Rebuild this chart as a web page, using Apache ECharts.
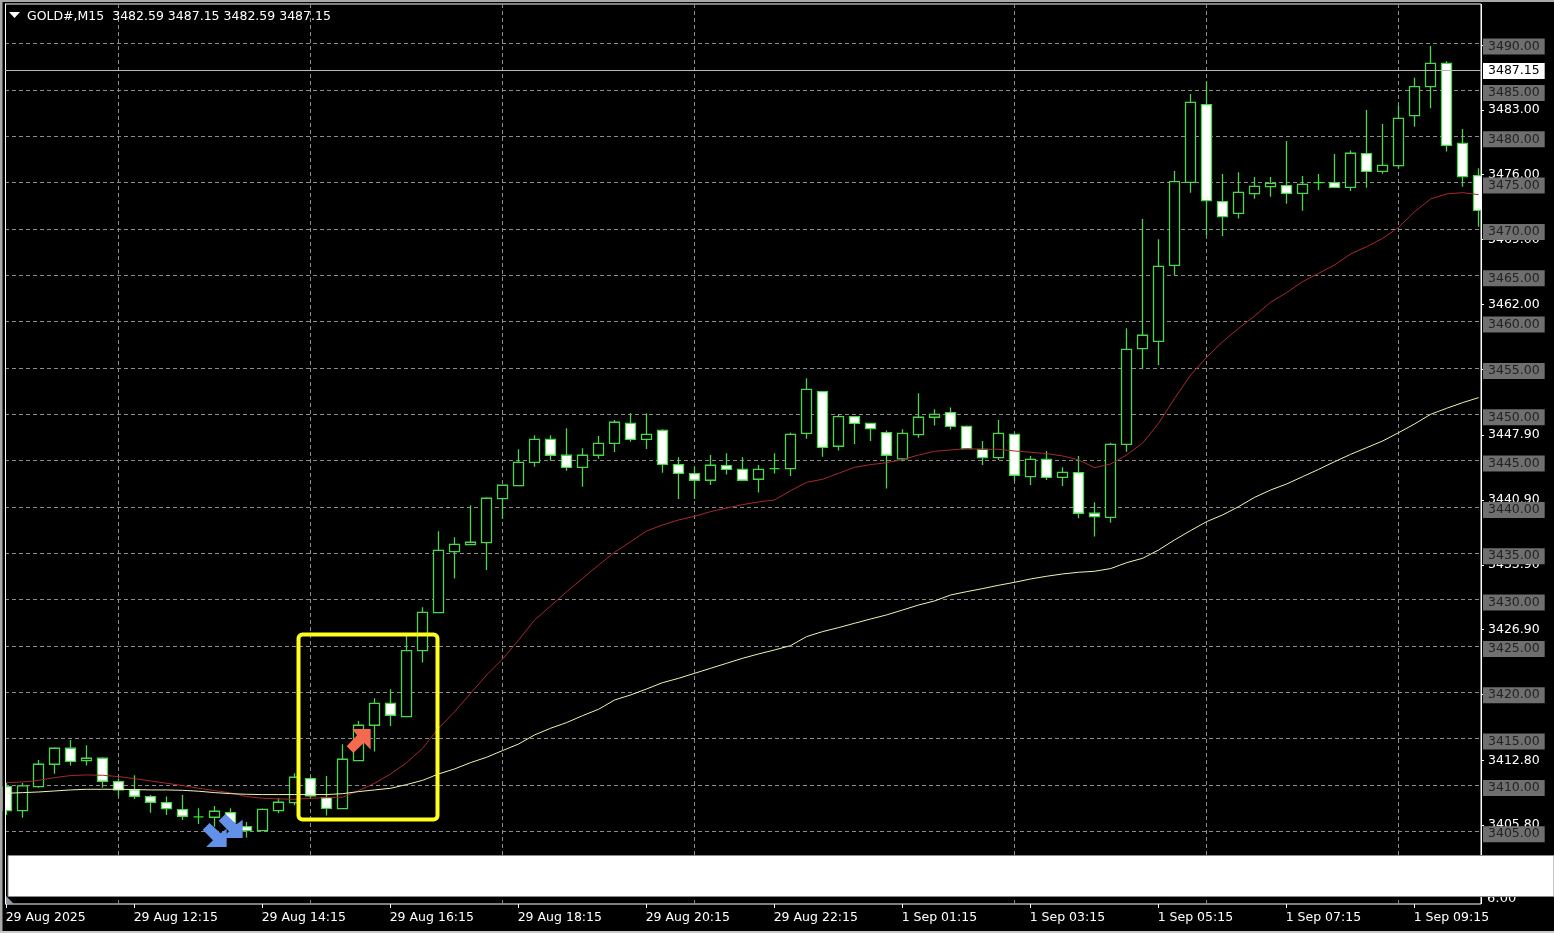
<!DOCTYPE html>
<html>
<head>
<meta charset="utf-8">
<style>html,body{margin:0;padding:0;background:#000}#c{width:1554px;height:933px}</style>
<script src="https://cdn.jsdelivr.net/npm/echarts@6/dist/echarts.min.js"></script>
</head>
<body>
<div id="c"></div>
<script>
const opens=[3409.82,3407.23,3409.82,3412.23,3413.96,3412.63,3412.88,3410.36,3409.46,3408.74,3408.09,3407.34,3406.55,3406.51,3407.01,3405.50,3405.07,3407.23,3408.09,3410.68,3408.63,3407.45,3412.63,3416.44,3418.81,3417.37,3424.50,3428.60,3435.18,3435.94,3436.15,3440.90,3442.30,3444.82,3447.30,3445.58,3444.28,3445.58,3446.87,3449.03,3447.30,3448.27,3444.57,3443.60,3442.88,3444.46,3444.06,3442.99,3444.14,3444.14,3447.95,3452.45,3446.55,3449.75,3449.03,3448.02,3445.18,3447.80,3449.68,3450.18,3448.70,3446.22,3445.32,3447.84,3443.27,3445.14,3443.20,3443.70,3439.32,3438.88,3446.76,3457.09,3457.88,3466.08,3475.04,3483.42,3472.95,3471.69,3473.81,3474.57,3474.68,3473.85,3475.00,3475.00,3474.50,3478.14,3476.22,3476.83,3482.23,3485.36,3487.88,3479.24,3475.76];
const closes=[3407.23,3409.90,3412.23,3413.96,3412.55,3412.88,3410.40,3409.46,3408.78,3408.13,3407.45,3406.62,3406.55,3407.16,3405.90,3405.07,3407.37,3408.13,3410.83,3408.81,3407.48,3412.77,3416.44,3418.81,3417.52,3424.50,3428.63,3435.32,3435.97,3436.19,3440.94,3442.34,3444.82,3447.30,3445.58,3444.28,3445.58,3446.87,3449.14,3447.30,3447.84,3444.60,3443.63,3442.88,3444.50,3444.06,3442.88,3444.06,3444.14,3447.84,3452.70,3446.44,3449.75,3449.03,3448.45,3445.58,3447.95,3449.68,3450.00,3448.70,3446.29,3445.32,3447.95,3443.42,3445.14,3443.20,3443.74,3439.32,3438.96,3446.76,3457.01,3458.53,3465.97,3475.11,3483.67,3473.06,3471.33,3473.96,3474.60,3474.93,3473.85,3474.82,3475.00,3474.50,3478.17,3476.22,3476.87,3481.94,3485.36,3487.88,3479.03,3475.65,3472.01];
const lows=[3406.76,3406.47,3409.70,3411.20,3412.09,3412.09,3409.70,3408.74,3408.49,3407.01,3406.76,3406.22,3405.79,3405.50,3405.20,3404.32,3405.00,3406.94,3407.81,3408.56,3406.69,3407.45,3412.63,3413.60,3416.37,3417.30,3423.20,3428.60,3432.27,3435.94,3433.20,3438.74,3442.23,3444.35,3445.00,3443.92,3442.19,3445.20,3445.94,3447.05,3446.26,3443.70,3440.86,3440.86,3442.37,3443.49,3442.88,3441.55,3443.60,3443.35,3447.37,3445.43,3446.08,3446.80,3447.12,3441.98,3444.93,3447.48,3448.78,3448.35,3446.22,3444.53,3445.07,3442.84,3442.37,3442.90,3442.27,3438.78,3436.80,3438.30,3445.97,3454.86,3455.32,3465.04,3473.92,3469.35,3469.24,3471.12,3473.27,3473.49,3472.73,3471.98,3474.20,3474.50,3474.10,3474.46,3475.97,3476.55,3481.04,3483.02,3478.35,3474.57,3470.25];
const highs=[3410.20,3410.20,3412.70,3414.06,3414.86,3414.28,3413.00,3410.70,3411.04,3408.92,3408.74,3408.92,3407.48,3407.73,3407.48,3406.00,3407.45,3408.56,3411.26,3410.90,3410.97,3414.39,3416.90,3419.35,3420.32,3426.10,3429.17,3437.37,3436.73,3440.18,3441.04,3442.37,3446.22,3447.73,3447.73,3448.49,3446.33,3447.66,3449.39,3450.10,3450.10,3448.38,3445.36,3444.35,3445.60,3445.80,3445.36,3444.53,3445.80,3448.02,3453.88,3452.50,3450.00,3449.80,3449.10,3448.24,3448.38,3452.27,3450.54,3450.72,3448.80,3447.12,3449.39,3447.90,3445.50,3446.04,3444.28,3445.50,3440.50,3446.94,3459.28,3471.08,3468.88,3476.26,3484.57,3485.90,3475.94,3476.12,3475.61,3475.61,3479.50,3475.72,3475.94,3478.09,3478.46,3482.84,3481.33,3483.31,3486.33,3489.75,3488.09,3480.79,3476.55];
const redMA=[3410.25,3410.32,3410.50,3410.79,3411.01,3411.08,3411.04,3410.90,3410.68,3410.43,3410.18,3409.93,3409.64,3409.39,3409.14,3408.74,3408.56,3408.49,3408.45,3408.56,3408.63,3408.67,3409.39,3410.18,3411.19,3412.41,3413.96,3416.12,3417.91,3419.89,3421.87,3423.60,3425.65,3427.81,3429.32,3430.86,3432.30,3433.74,3435.11,3436.26,3437.41,3438.06,3438.60,3438.99,3439.50,3439.89,3440.25,3440.54,3440.76,3441.76,3442.66,3442.99,3443.63,3444.28,3444.57,3444.78,3445.11,3445.61,3446.01,3446.15,3446.29,3446.22,3446.22,3446.04,3445.90,3445.76,3445.50,3445.07,3444.24,3444.64,3445.61,3446.90,3449.03,3451.73,3454.24,3456.15,3457.84,3459.28,3460.61,3462.10,3463.13,3464.32,3465.22,3466.12,3467.30,3468.09,3468.99,3470.18,3471.87,3473.24,3473.78,3473.92,3473.70];
const yellowMA=[3409.10,3409.17,3409.24,3409.35,3409.46,3409.53,3409.53,3409.53,3409.50,3409.46,3409.46,3409.42,3409.32,3409.17,3409.06,3408.99,3408.96,3408.96,3408.96,3408.96,3408.96,3409.06,3409.28,3409.46,3409.64,3410.04,3410.50,3411.19,3411.73,3412.41,3412.99,3413.71,3414.42,3415.40,3416.12,3416.73,3417.48,3418.17,3419.17,3419.71,3420.36,3421.04,3421.51,3422.05,3422.59,3423.13,3423.67,3424.14,3424.57,3425.04,3426.01,3426.55,3426.98,3427.45,3427.91,3428.35,3428.88,3429.42,3429.86,3430.50,3430.86,3431.19,3431.55,3431.87,3432.23,3432.52,3432.77,3432.95,3433.06,3433.35,3433.99,3434.46,3435.36,3436.45,3437.45,3438.42,3439.14,3440.04,3441.04,3441.83,3442.48,3443.27,3444.06,3444.89,3445.68,3446.40,3447.12,3448.02,3448.96,3450.00,3450.65,3451.26,3451.80];
const gridPrices=[3405,3410,3415,3420,3425,3430,3435,3440,3445,3450,3455,3460,3465,3470,3475,3480,3485,3490];
const scalePrices=[3405.80,3412.80,3419.90,3426.90,3433.90,3440.90,3447.90,3455.00,3462.00,3469.00,3476.00,3483.00,3490.00];
const lastPrice=3487.15;
const timeTicks=[0,8,16,24,32,40,48,56,64,72,80,88];
const timeLabels=['29 Aug 2025','29 Aug 12:15','29 Aug 14:15','29 Aug 16:15','29 Aug 18:15','29 Aug 20:15','29 Aug 22:15','1 Sep 01:15','1 Sep 03:15','1 Sep 05:15','1 Sep 07:15','1 Sep 09:15'];
const sessionBars=[7,19,31,43,63,75,87];
const sessionHours=['18','21','0','3','9','12','15'];
const buyArrows=[[22,3414.74]];
const sellArrows=[[13,3404.6],[14,3405.57]];
const chartTitle='GOLD#,M15  3482.59 3487.15 3482.59 3487.15';

const FONT='"DejaVu Sans"';
const FS=12.5;
const arrowPath='path://M52 45L107 45L107 105L87 85L55 115L35 95L66 63Z';
const xMin=-0.104,xMax=92.146,yMin=3397.15,yMax=3494.28,labelShift=0.32,lastShift=0.1,plainShift=0.14;
const hidden={show:false};
const noLine={show:false,onZero:false};
const candles=opens.map((o,i)=>[i,o,closes[i],lows[i],highs[i]]);
const idx=v=>v.map((y,i)=>[i,y]);
const barPx=i=>6.67+16*i;

const hourTexts=sessionBars.map((b,k)=>({type:'text',z:90,silent:true,x:barPx(b),y:894,
  style:{text:sessionHours[k],fill:'#fff',font:'13px '+FONT,textAlign:'center',textVerticalAlign:'middle'}}));

const option={
  animation:false,backgroundColor:'#000',
  title:{text:chartTitle,left:27,top:10,padding:0,textStyle:{color:'#fff',fontFamily:FONT,fontSize:FS,fontWeight:'normal'}},
  grid:{left:5,top:4,width:1476,height:900,show:true,backgroundColor:'#000',borderColor:'#fff',borderWidth:1,containLabel:false,outerBoundsMode:'none'},
  xAxis:[
    {type:'value',min:xMin,max:xMax,position:'bottom',splitLine:hidden,axisLine:noLine,
     axisTick:{show:true,length:4,lineStyle:{color:'#fff'},customValues:timeTicks},
     axisLabel:{show:true,customValues:timeTicks,color:'#fff',fontFamily:FONT,fontSize:FS,align:'left',margin:7.5,
       padding:[0,0,0,-1],hideOverlap:false,formatter:v=>timeLabels[timeTicks.indexOf(v)]}},
    {type:'value',min:xMin,max:xMax,position:'bottom',axisLine:noLine,axisLabel:hidden,
     axisTick:{show:false,customValues:sessionBars},
     splitLine:{show:true,lineStyle:{color:'#8c8c8c',width:1,type:[4,3]}}}
  ],
  yAxis:[
    {type:'value',min:yMin,max:yMax,position:'right',axisLine:noLine,axisLabel:hidden,
     axisTick:{show:false,customValues:gridPrices},
     splitLine:{show:true,lineStyle:{color:'#8c8c8c',width:1,type:[4,3]}}},
    {type:'value',min:yMin+plainShift,max:yMax+plainShift,position:'right',z:10,axisLine:noLine,splitLine:hidden,
     axisTick:{show:true,length:3,lineStyle:{color:'#fff'},customValues:scalePrices},
     axisLabel:{show:true,customValues:scalePrices,margin:7,color:'#fff',fontFamily:FONT,fontSize:FS,hideOverlap:false,formatter:v=>v.toFixed(2)}},
    {type:'value',min:yMin+labelShift,max:yMax+labelShift,position:'right',z:11,axisLine:noLine,splitLine:hidden,
     axisTick:{show:false,customValues:gridPrices},
     axisLabel:{show:true,customValues:gridPrices,margin:2,color:'#222',fontFamily:FONT,fontSize:FS,hideOverlap:false,
       backgroundColor:'#6f6f6f',padding:[2,5,1,5],lineHeight:13,formatter:v=>v.toFixed(2)}},
    {type:'value',min:yMin+lastShift,max:yMax+lastShift,position:'right',z:11,axisLine:noLine,splitLine:hidden,
     axisTick:{show:false,customValues:[lastPrice]},
     axisLabel:{show:true,customValues:[lastPrice],margin:2,color:'#000',fontFamily:FONT,fontSize:FS,hideOverlap:false,
       backgroundColor:'#fff',padding:[2,5,1,5],lineHeight:13,formatter:v=>v.toFixed(2)}}
  ],
  series:[
    {type:'candlestick',name:'GOLD#',xAxisIndex:0,yAxisIndex:0,z:2,barWidth:10,clip:true,data:candles,
     itemStyle:{color:'#000',color0:'#fff',borderColor:'#4cd64c',borderColor0:'#4cd64c',borderColorDoji:'#2ee62e',borderWidth:1.3},
     markLine:{silent:true,symbol:'none',label:hidden,animation:false,lineStyle:{color:'#b8b8b8',type:'solid',width:1},data:[{yAxis:lastPrice}]}},
    {type:'line',name:'MA red',xAxisIndex:0,yAxisIndex:0,z:3,data:idx(redMA),showSymbol:false,symbol:'none',lineStyle:{color:'#a52a2e',width:1}},
    {type:'line',name:'MA yellow',xAxisIndex:0,yAxisIndex:0,z:3,data:idx(yellowMA),showSymbol:false,symbol:'none',lineStyle:{color:'#f3f3b0',width:1}},
    {type:'scatter',name:'Buy',xAxisIndex:0,yAxisIndex:0,z:6,data:buyArrows,symbol:arrowPath,symbolSize:24,itemStyle:{color:'#f5694f',opacity:1}},
    {type:'scatter',name:'Sell',xAxisIndex:0,yAxisIndex:0,z:6,data:sellArrows,symbol:arrowPath,symbolSize:24,symbolRotate:-90,itemStyle:{color:'#6491e8',opacity:1}}
  ],
  graphic:{elements:[
    {type:'rect',z:4,silent:true,shape:{x:2.5,y:4,width:2.5,height:900},style:{fill:'#000'}},
    {type:'rect',z:4,silent:true,shape:{x:1482,y:4,width:6,height:900},style:{fill:'#000'}},
    {type:'rect',z:5,silent:true,shape:{x:5,y:4,width:1,height:900},style:{fill:'#fff'}},
    {type:'rect',z:5,silent:true,shape:{x:1481,y:4,width:1,height:900},style:{fill:'#fff'}},
    {type:'rect',z:50,silent:true,shape:{x:298.5,y:634.5,width:139,height:185,r:4},style:{fill:'transparent',stroke:'#ffff1e',lineWidth:4}},
    {type:'polygon',z:60,silent:true,shape:{points:[[9,12],[20,12],[14.5,18]]},style:{fill:'#fff'}},
    ...hourTexts,
    {type:'text',z:90,silent:true,x:1487,y:899,style:{text:'6:00',fill:'#fff',font:'13px '+FONT,textVerticalAlign:'middle'}},
    {type:'rect',z:100,silent:true,shape:{x:8,y:855.5,width:1546,height:41},style:{fill:'#fff',stroke:'#8a8a8a',lineWidth:1}},
    {type:'polygon',z:100,silent:true,shape:{points:[[6,896],[14,904],[6,904]]},style:{fill:'#8f98a3'}},
    {type:'rect',z:100,silent:true,shape:{x:0,y:0,width:1554,height:2},style:{fill:'#a8a8a8'}},
    {type:'rect',z:100,silent:true,shape:{x:0,y:0,width:2.5,height:933},style:{fill:'#a8a8a8'}},
    {type:'rect',z:100,silent:true,shape:{x:0,y:931,width:1554,height:2},style:{fill:'#c8c8c8'}}
  ]}
};
echarts.init(document.getElementById('c'),null,{renderer:'canvas'}).setOption(option);
</script>
</body>
</html>
